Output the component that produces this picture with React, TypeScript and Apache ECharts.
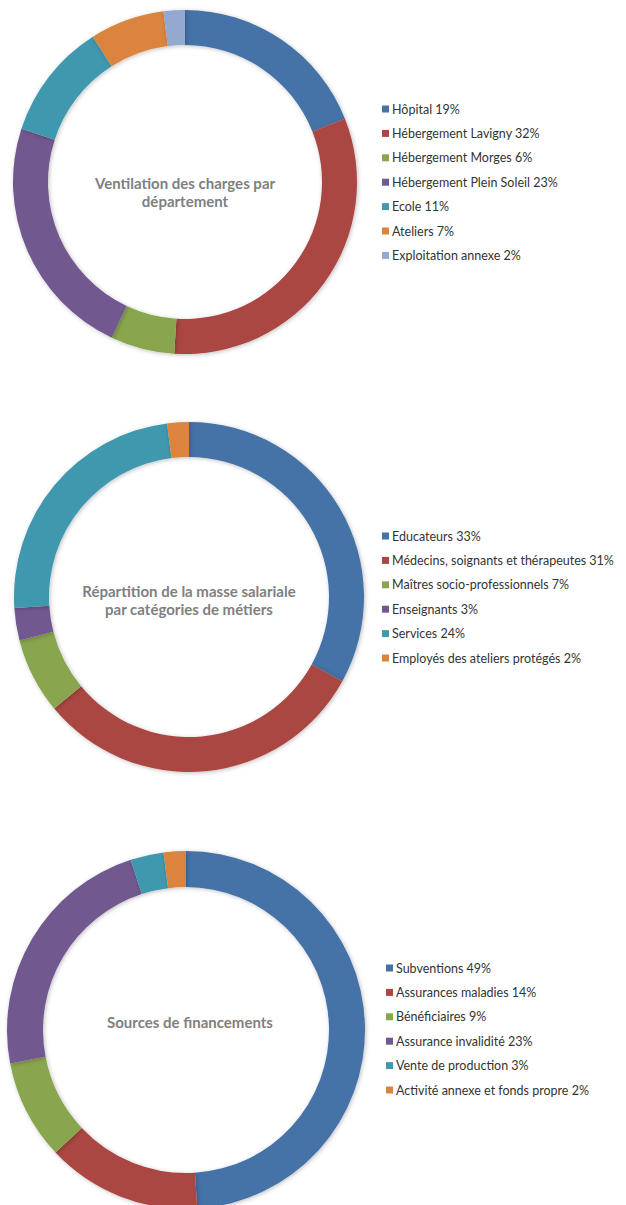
import React, { useEffect, useRef } from "react";
import * as echarts from "echarts";

const colors = ["#4572A7", "#AA4643", "#89A54E", "#71588F", "#4198AF", "#DB843D", "#93A9CF"];

const deptNames = [
  "Hôpital",
  "Hébergement Lavigny",
  "Hébergement Morges",
  "Hébergement Plein Soleil",
  "Ecole",
  "Ateliers",
  "Exploitation annexe",
];
const deptValues = [19, 32, 6, 23, 11, 7, 2];

const salaryNames = [
  "Educateurs",
  "Médecins, soignants et thérapeutes",
  "Maîtres socio-professionnels",
  "Enseignants",
  "Services",
  "Employés des ateliers protégés",
];
const salaryValues = [33, 31, 7, 3, 24, 2];

const fundNames = [
  "Subventions",
  "Assurances maladies",
  "Bénéficiaires",
  "Assurance invalidité",
  "Vente de production",
  "Activité annexe et fonds propre",
];
const fundValues = [49, 14, 9, 23, 3, 2];

const titles = [
  "Ventilation des charges par\ndépartement",
  "Répartition de la masse salariale\npar catégories de métiers",
  "Sources de financements",
];

const FONT = "Lato, 'Open Sans', sans-serif";

export default function App() {
  const ref = useRef<HTMLDivElement>(null);
  useEffect(() => {
    if (!ref.current) return;
    const chart = echarts.init(ref.current, undefined, { renderer: "svg" });
    const valueMap: Record<string, number> = {};
    [
      [deptNames, deptValues],
      [salaryNames, salaryValues],
      [fundNames, fundValues],
    ].forEach(([n, v]: any) => n.forEach((name: string, i: number) => (valueMap[name] = v[i])));

    const mkSeries = (names: string[], values: number[], center: number[], radius: number[]) => ({
      type: "pie",
      center,
      radius,
      startAngle: 90,
      clockwise: true,
      avoidLabelOverlap: false,
      label: { show: false },
      labelLine: { show: false },
      silent: true,
      itemStyle: { shadowBlur: 4, shadowColor: "rgba(0,0,0,0.25)", shadowOffsetX: 1, shadowOffsetY: 1 },
      data: names.map((n, i) => ({ name: n, value: values[i], itemStyle: { color: colors[i] } })),
    });

    const mkLegend = (names: string[], left: number, top: number) => ({
      orient: "vertical",
      left,
      top,
      icon: "rect",
      itemWidth: 7,
      itemHeight: 7,
      itemGap: 10.4,
      selectedMode: false,
      data: names,
      formatter: (name: string) => `${name} ${valueMap[name]}%`,
      textStyle: { fontFamily: FONT, fontSize: 12.5, color: "#333333", lineHeight: 14, padding: [0, 0, 0, -2] },
    });

    const mkTitle = (text: string, x: number, y: number) => ({
      type: "text",
      x,
      y,
      style: {
        text,
        fill: "#7f7f7f",
        font: `bold 15px ${FONT}`,
        align: "center",
        verticalAlign: "middle",
        lineHeight: 18,
      },
    });

    chart.setOption({
      animation: false,
      legend: [
        mkLegend(deptNames, 377, 97),
        mkLegend(salaryNames, 377, 524),
        mkLegend(fundNames, 381, 956),
      ],
      series: [
        mkSeries(deptNames, deptValues, [185, 182], [137, 172]),
        mkSeries(salaryNames, salaryValues, [189, 597], [140, 175]),
        mkSeries(fundNames, fundValues, [186, 1030], [143, 179]),
      ],
      graphic: [
        mkTitle(titles[0], 185, 192),
        mkTitle(titles[1], 189, 600),
        mkTitle(titles[2], 190, 1022),
      ],
    });
    return () => chart.dispose();
  }, []);
  return (
    <div
      ref={ref}
      style={{ position: "absolute", left: 0, top: 0, width: 626, height: 1205, background: "#fff" }}
    />
  );
}
